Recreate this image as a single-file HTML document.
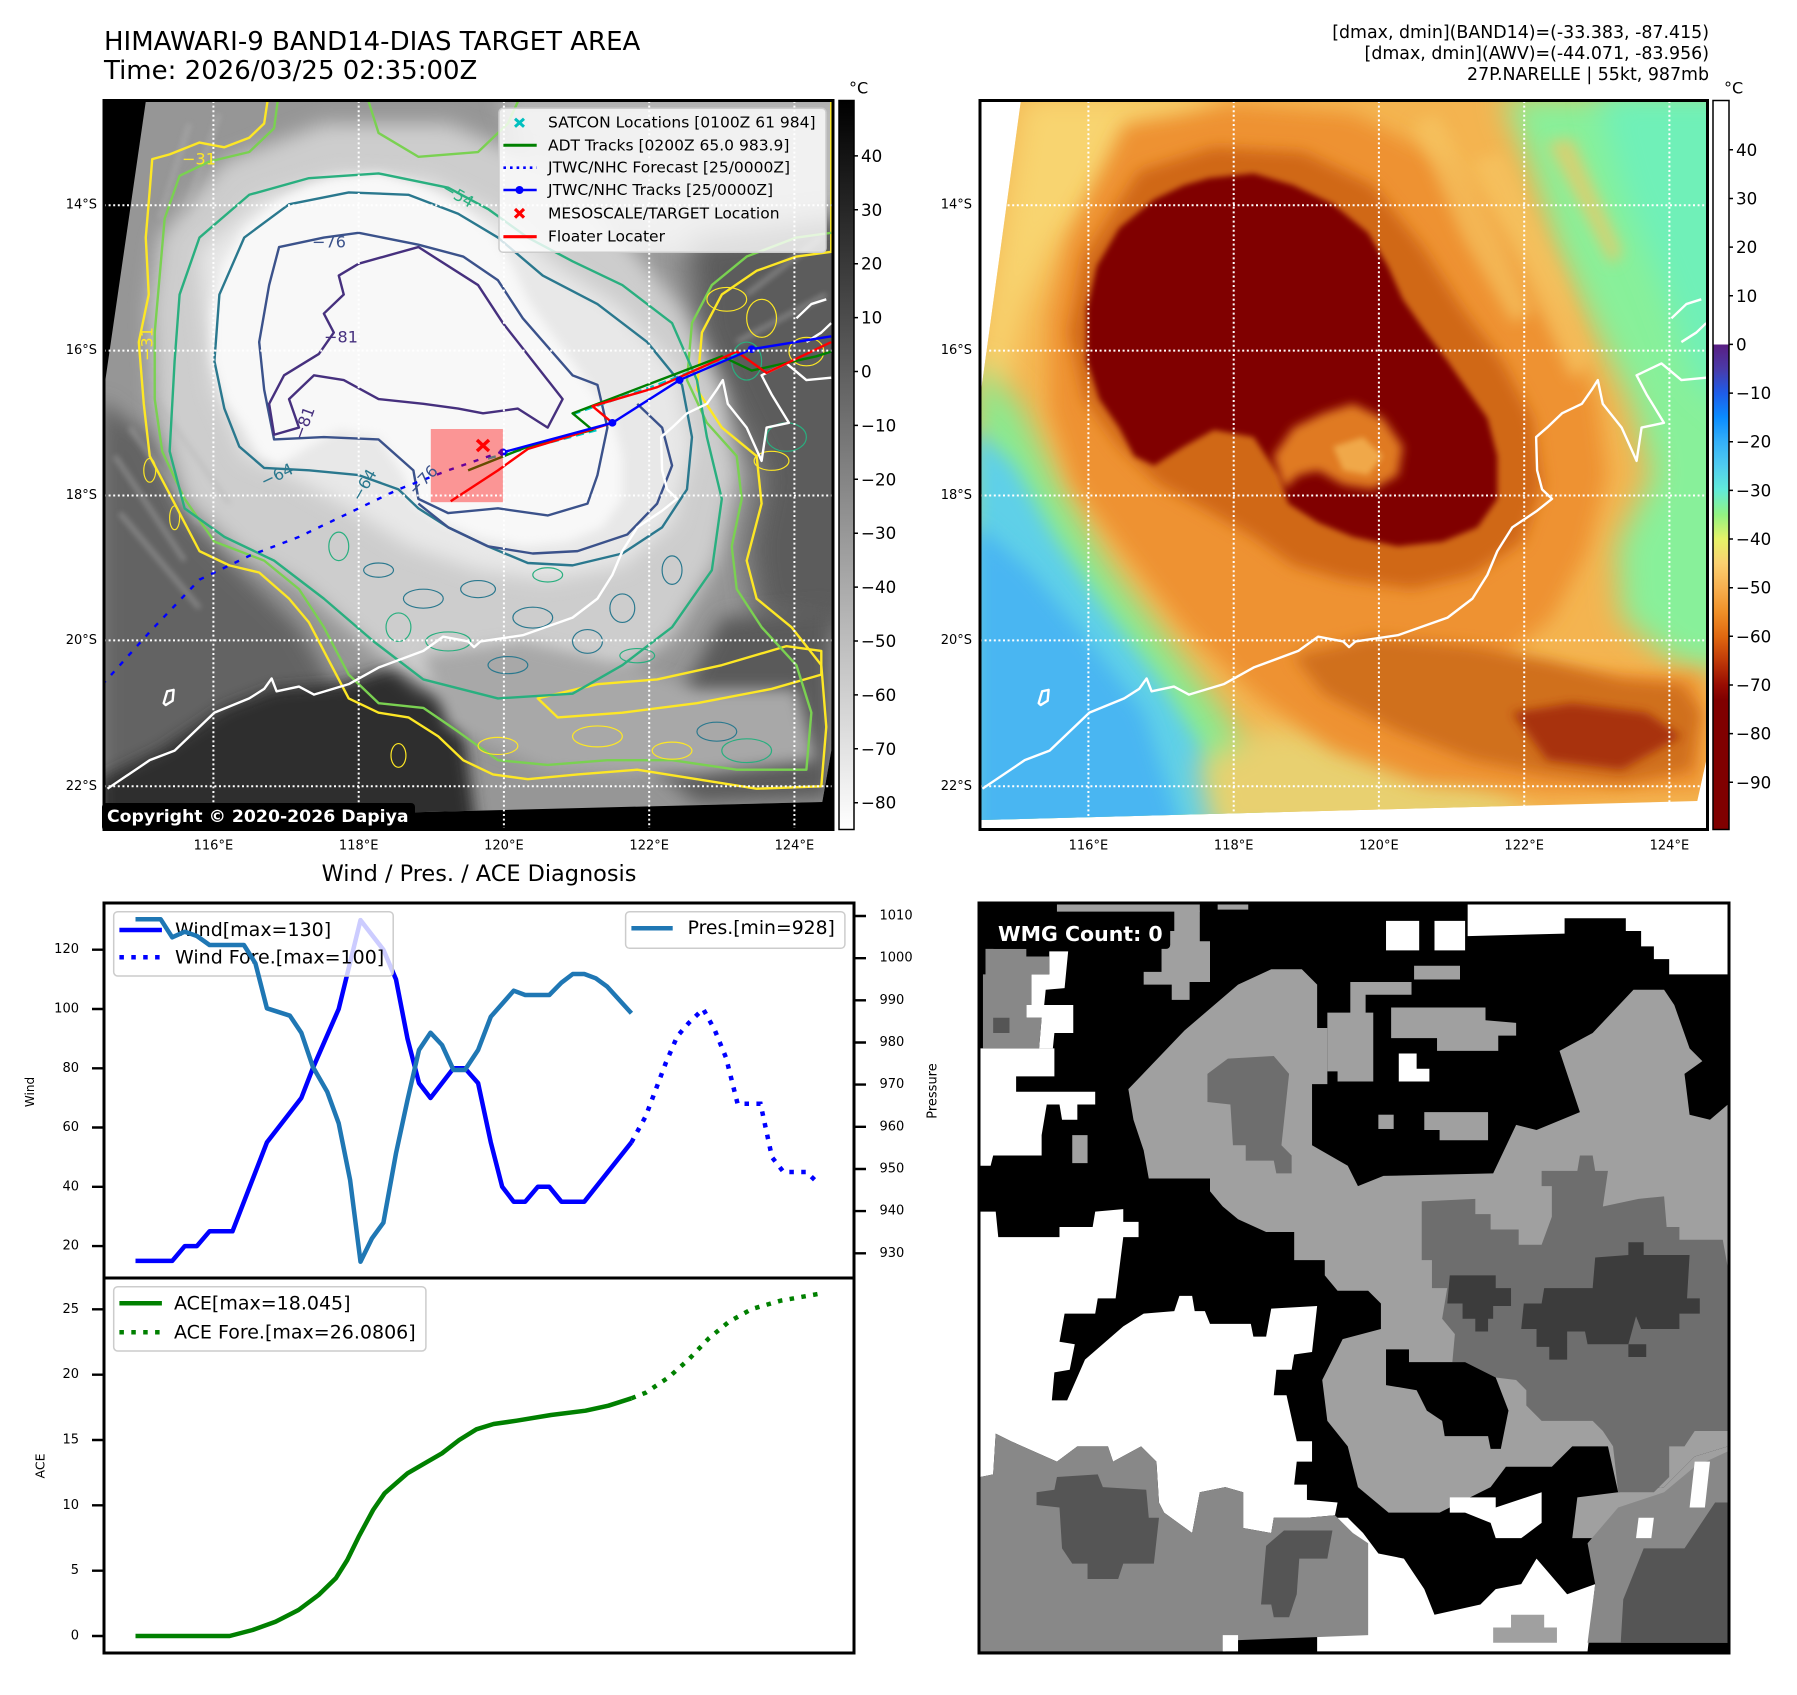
<!DOCTYPE html>
<html><head><meta charset="utf-8"><style>
html,body{margin:0;padding:0;background:#fff;}
body{width:1797px;height:1690px;overflow:hidden;}
svg text{font-family:"DejaVu Sans","Liberation Sans",sans-serif;}
.ct{fill:none;stroke-width:2.4;stroke-linejoin:round;vector-effect:non-scaling-stroke;}
</style></head><body>
<svg width="1797" height="1690" viewBox="0 0 1797 1690" xmlns="http://www.w3.org/2000/svg">
<defs>
<filter id="b6" filterUnits="userSpaceOnUse" x="-300" y="-300" width="2200" height="2200"><feGaussianBlur stdDeviation="6"/></filter>
<filter id="b10" filterUnits="userSpaceOnUse" x="-300" y="-300" width="2200" height="2200"><feGaussianBlur stdDeviation="10"/></filter>
<filter id="b15" filterUnits="userSpaceOnUse" x="-300" y="-300" width="2200" height="2200"><feGaussianBlur stdDeviation="15"/></filter>
<filter id="b20" filterUnits="userSpaceOnUse" x="-300" y="-300" width="2200" height="2200"><feGaussianBlur stdDeviation="20"/></filter>
<filter id="b30" filterUnits="userSpaceOnUse" x="-300" y="-300" width="2200" height="2200"><feGaussianBlur stdDeviation="30"/></filter>
<linearGradient id="cbGray" x1="0" y1="0" x2="0" y2="1"><stop offset="0" stop-color="#000"/><stop offset="1" stop-color="#fff"/></linearGradient>
<linearGradient id="cbAWV" x1="0" y1="0" x2="0" y2="1">
<stop offset="0" stop-color="#fff"/><stop offset="0.3345" stop-color="#fff"/><stop offset="0.3347" stop-color="#5a1e82"/>
<stop offset="0.368" stop-color="#4a3aa8"/><stop offset="0.401" stop-color="#1f5ce8"/><stop offset="0.4347" stop-color="#0a8cff"/>
<stop offset="0.468" stop-color="#34b0f8"/><stop offset="0.5014" stop-color="#50ccf0"/><stop offset="0.5348" stop-color="#62ecd8"/>
<stop offset="0.568" stop-color="#92f282"/><stop offset="0.6015" stop-color="#e6f268"/><stop offset="0.6349" stop-color="#fad070"/>
<stop offset="0.668" stop-color="#f8b050"/><stop offset="0.7016" stop-color="#f09028"/><stop offset="0.735" stop-color="#e06810"/>
<stop offset="0.768" stop-color="#c03a08"/><stop offset="0.8018" stop-color="#980c02"/><stop offset="0.822" stop-color="#800000"/><stop offset="1" stop-color="#800000"/>
</linearGradient>
<clipPath id="clipL"><rect x="8" y="14" width="1466" height="1531"/></clipPath>
<clipPath id="clipR"><rect x="10" y="14" width="1462" height="1531"/></clipPath>
<clipPath id="clipW"><rect x="37" y="45" width="1471" height="1470"/></clipPath>
</defs>

<!-- Titles -->
<text x="104" y="42" font-size="26" dominant-baseline="central">HIMAWARI-9 BAND14-DIAS TARGET AREA</text>
<text x="104" y="71" font-size="26" dominant-baseline="central">Time: 2026/03/25 02:35:00Z</text>
<text x="1709" y="33" font-size="17.4" text-anchor="end" dominant-baseline="central">[dmax, dmin](BAND14)=(-33.383, -87.415)</text>
<text x="1709" y="54" font-size="17.4" text-anchor="end" dominant-baseline="central">[dmax, dmin](AWV)=(-44.071, -83.956)</text>
<text x="1709" y="75" font-size="17.4" text-anchor="end" dominant-baseline="central">27P.NARELLE | 55kt, 987mb</text>

<!-- ============ LEFT MAP ============ -->
<svg x="100" y="95" width="780" height="745" viewBox="0 0 1568 1568" preserveAspectRatio="none">
<g clip-path="url(#clipL)">
<rect x="0" y="0" width="1568" height="1568" fill="#000"/>
<clipPath id="swL"><polygon points="92,14 1474,14 1470,1380 1452,1488 10,1526 8,620"/></clipPath>
<g clip-path="url(#swL)">
<rect x="0" y="0" width="1568" height="1568" fill="#969696"/>
<polygon points="800,0 1568,0 1568,260 1200,330 900,250" fill="#b8b8b8" filter="url(#b20)"/>
<polygon points="1180,300 1568,250 1568,1150 1320,1100 1300,950 1330,800 1260,650 1200,500" fill="#5c5c5c" filter="url(#b30)"/>
<polygon points="0,640 100,720 170,880 280,1000 400,1120 480,1260 560,1420 600,1568 0,1568" fill="#646464" filter="url(#b20)"/>
<polygon points="0,1440 120,1380 250,1290 350,1250 480,1240 600,1200 720,1250 760,1568 0,1568" fill="#2e2e2e" filter="url(#b15)"/>
<polygon points="1250,1100 1470,1080 1470,1480 1200,1490 1100,1400" fill="#5a5a5a" filter="url(#b20)"/>
<polygon points="120,300 250,140 450,60 700,60 900,150 1050,300 1170,450 1250,620 1280,800 1240,980 1150,1140 1000,1250 820,1290 650,1250 520,1140 400,1030 280,960 170,850 110,650 100,450" fill="#cdcdcd" filter="url(#b20)"/>
<polygon points="200,330 320,220 480,170 660,180 800,250 920,360 1050,450 1160,580 1190,740 1150,900 1050,990 900,1020 760,1000 620,950 500,870 380,800 290,760 230,620 210,460" fill="#e8e8e8" filter="url(#b20)"/>
<polygon points="470,175 560,165 640,190 720,230 790,290 830,360 860,430 900,490 950,560 990,620 1030,680 1050,760 1050,850 1010,910 940,940 850,950 760,930 690,900 630,860 610,800 560,720 480,705 420,740 360,780 320,760 290,700 250,640 225,560 225,450 245,360 290,280 360,220 420,190" fill="#f8f8f8" filter="url(#b10)"/>
<polygon points="650,1180 850,1150 1050,1200 1200,1250 1400,1250 1440,1400 1200,1430 900,1420 700,1330" fill="#a8a8a8" filter="url(#b15)"/>
<g stroke="#b4b4b4" stroke-width="10" opacity="0.45" filter="url(#b6)">
<path d="M60,700 L200,900 M30,760 L170,980 M110,640 L260,860 M40,880 L200,1080 M180,60 L120,260 M240,40 L170,250 M1300,420 L1450,300 M1280,520 L1460,420"/>
</g>
</g>
<!-- contours -->
<path class="ct" stroke="#fde725" d="M340,-10 L330,60 L300,90 L250,110 L200,100 L140,125 L105,135 L100,200 L92,300 L98,420 L78,520 L88,650 L100,760 L150,860 L200,960 L260,990 L320,1005 L380,1060 L420,1110 L460,1190 L500,1270 L560,1300 L620,1310 L680,1350 L730,1400 L790,1430 L860,1440 L960,1430 L1080,1420 L1200,1440 L1320,1460 L1450,1455 L1460,1330 L1450,1200 L1390,1120 L1320,1060 L1300,980 L1330,860 L1320,760 L1250,700 L1200,620 L1210,500 L1250,420 L1320,370 L1400,340 L1470,330 L1470,-10 Z"/>
<path class="ct" stroke="#fde725" d="M880,1270 L1000,1240 L1120,1230 L1250,1200 L1380,1160 L1450,1170 L1450,1220 L1350,1250 L1200,1280 L1050,1300 L920,1310 Z"/>
<path class="ct" stroke="#7ad151" d="M360,-10 L350,70 L300,120 L220,140 L160,170 L130,260 L120,380 L110,500 L110,640 L125,750 L170,850 L230,940 L330,980 L400,1040 L450,1120 L500,1220 L560,1280 L650,1290 L720,1340 L800,1400 L900,1410 L1020,1400 L1150,1400 L1280,1420 L1420,1420 L1430,1300 L1400,1200 L1330,1120 L1280,1040 L1270,950 L1290,850 L1280,760 L1220,690 L1180,600 L1190,480 L1230,400 L1300,340 L1400,300 L1470,290"/>
<path class="ct" stroke="#7ad151" d="M540,14 L560,80 L640,130 L760,120 L820,60 L840,14"/>
<path class="ct" stroke="#29af7f" d="M150,560 L160,420 L200,300 L300,210 L420,175 L560,165 L700,195 L780,240 L860,300 L950,350 L1050,400 L1150,480 L1200,600 L1220,720 L1250,850 L1230,1000 L1150,1120 L1050,1200 L950,1260 L800,1270 L650,1230 L550,1150 L450,1060 L350,980 L250,930 L170,870 L140,750 Z"/>
<path class="ct" stroke="#2a788e" d="M230,560 L240,420 L290,300 L380,230 L500,205 L620,210 L720,250 L800,300 L890,380 L1000,440 L1100,520 L1170,610 L1190,720 L1180,830 L1130,910 L1050,965 L950,990 L860,985 L780,950 L700,910 L640,870 L600,830 L520,800 L420,790 L330,785 L280,740 L250,660 Z"/>
<path class="ct" stroke="#3b528b" d="M340,400 L360,320 L450,300 L520,290 L640,315 L730,340 L800,390 L850,470 L900,530 L950,590 L1000,610 L1020,700 L1000,800 L980,860 L900,885 L800,870 L700,880 L640,850 L630,790 L560,725 L450,720 L350,725 L330,620 L320,520 Z"/>
<path class="ct" stroke="#3b528b" d="M640,860 L700,910 L780,950 L870,965 L960,960 L1060,925 L1120,860 L1150,780 L1130,700 L1080,650"/>
<path class="ct" stroke="#46307e" d="M480,380 L520,355 L640,320 L760,400 L810,480 L840,520 L870,560 L900,600 L930,640 L900,700 L840,660 L770,670 L720,660 L650,650 L560,640 L490,600 L430,590 L380,640 L400,700 L350,715 L340,650 L370,590 L440,545 L470,500 L450,460 L490,420 Z"/>
<g class="ct" stroke="#2a788e">
<ellipse cx="560" cy="1000" rx="30" ry="15"/><ellipse cx="650" cy="1060" rx="40" ry="20"/><ellipse cx="760" cy="1040" rx="35" ry="18"/>
<ellipse cx="870" cy="1100" rx="40" ry="22"/><ellipse cx="980" cy="1150" rx="30" ry="25"/><ellipse cx="820" cy="1200" rx="40" ry="18"/>
<ellipse cx="1050" cy="1080" rx="25" ry="30"/><ellipse cx="1150" cy="1000" rx="20" ry="30"/><ellipse cx="1240" cy="1340" rx="40" ry="20"/>
</g>
<g class="ct" stroke="#29af7f">
<ellipse cx="700" cy="1150" rx="45" ry="20"/><ellipse cx="900" cy="1010" rx="30" ry="15"/><ellipse cx="600" cy="1120" rx="25" ry="30"/>
<ellipse cx="1080" cy="1180" rx="35" ry="15"/><ellipse cx="480" cy="950" rx="20" ry="30"/><ellipse cx="1300" cy="1380" rx="50" ry="25"/>
<ellipse cx="1380" cy="720" rx="40" ry="30"/><ellipse cx="1300" cy="560" rx="30" ry="40"/>
</g>
<g class="ct" stroke="#fde725">
<ellipse cx="1260" cy="430" rx="40" ry="25"/><ellipse cx="1330" cy="470" rx="30" ry="40"/><ellipse cx="1420" cy="540" rx="35" ry="30"/>
<ellipse cx="1350" cy="770" rx="35" ry="20"/><ellipse cx="100" cy="790" rx="12" ry="25"/><ellipse cx="150" cy="890" rx="10" ry="25"/>
<ellipse cx="1000" cy="1350" rx="50" ry="22"/><ellipse cx="800" cy="1370" rx="40" ry="18"/><ellipse cx="1150" cy="1380" rx="40" ry="18"/>
<ellipse cx="600" cy="1390" rx="15" ry="25"/>
</g>
<!-- coastline -->
<path class="ct" stroke="#fff" stroke-width="2" d="M15,1460 L100,1400 L150,1380 L200,1330 L230,1300 L300,1270 L330,1250 L345,1228 L355,1255 L400,1245 L430,1262 L500,1240 L560,1205 L650,1170 L690,1140 L740,1150 L752,1162 L765,1150 L850,1137 L950,1100 L1000,1060 L1030,1010 L1050,960 L1080,910 L1130,875 L1160,850 L1140,830 L1130,790 L1128,720 L1150,700 L1180,670 L1220,650 L1240,620 L1252,600 L1262,650 L1300,700 L1330,770 L1340,700 L1385,690 L1350,630 L1330,590 L1380,565 L1420,600 L1470,595"/>
<path class="ct" stroke="#fff" d="M128,1280 L135,1255 L148,1252 L146,1275 L132,1284 Z"/>
<path class="ct" stroke="#fff" d="M1400,470 L1430,440 L1460,430 M1420,520 L1450,500 L1470,480"/>
<!-- tracks -->
<path class="ct" stroke="#00c8c8" stroke-width="5" stroke-dasharray="8 5" d="M950,672 L1120,610 L1280,545 M780,765 L1000,705"/>
<path class="ct" stroke="#0000ff" stroke-width="2.6" stroke-dasharray="5 8" d="M810,750 L700,790 L600,830 L500,880 L400,930 L300,970 L200,1020 L100,1130 L10,1235"/>
<path class="ct" stroke="#008000" stroke-width="2.8" d="M740,790 L860,740 L990,705 L950,670 L1000,650 L1250,550 L1310,580 L1440,550 L1470,540"/>
<path class="ct" stroke="#ff0000" stroke-width="3.2" d="M705,855 L800,790 L860,745 L985,705 L1030,690 L990,655 L1120,615 L1280,540 L1340,585 L1470,520"/>
<path class="ct" stroke="#0000ff" stroke-width="2.6" d="M810,752 L1030,690 L1165,600 L1310,535 L1470,508"/>
<g fill="#0000ff"><ellipse cx="810" cy="752" rx="8" ry="8"/><ellipse cx="1030" cy="690" rx="8" ry="8"/><ellipse cx="1165" cy="600" rx="8" ry="8"/><ellipse cx="1310" cy="535" rx="8" ry="8"/></g>
<rect x="665" y="703" width="145" height="154" fill="#ff0000" fill-opacity="0.4"/>
</g>
</svg>

<!-- ============ RIGHT MAP ============ -->
<svg x="975" y="95" width="780" height="745" viewBox="0 0 1568 1568" preserveAspectRatio="none">
<g clip-path="url(#clipR)">
<rect x="0" y="0" width="1568" height="1568" fill="#fff"/>
<clipPath id="swR"><polygon points="92,14 1474,14 1470,1400 1452,1486 10,1526 10,640"/></clipPath>
<g clip-path="url(#swR)">
<rect x="0" y="0" width="1568" height="1568" fill="#f4b450"/>
<polygon points="92,0 500,0 420,120 260,200 160,320 100,450 60,620 0,620" fill="#f8d470" filter="url(#b30)"/>
<polygon points="1060,0 1568,0 1568,1230 1400,1190 1300,1100 1290,950 1360,800 1320,650 1240,480 1170,320 1120,160" fill="#88f09a" filter="url(#b30)"/>
<polygon points="1250,0 1568,0 1568,700 1450,600 1380,400 1300,200" fill="#70f0b8" filter="url(#b30)"/>
<polygon points="0,560 90,650 170,820 270,990 390,1150 500,1300 600,1450 640,1568 0,1568" fill="#8aea90" filter="url(#b30)"/>
<polygon points="0,700 80,780 160,930 260,1080 370,1230 460,1380 520,1568 0,1568" fill="#5fd0e8" filter="url(#b20)"/>
<polygon points="0,900 110,1000 230,1150 340,1300 420,1568 0,1568" fill="#48b6f2" filter="url(#b20)"/>
<polygon points="480,1568 450,1400 600,1330 800,1350 1000,1400 1100,1500 1100,1568" fill="#e8d070" filter="url(#b30)"/>
<polygon points="300,60 520,20 760,40 950,140 1080,300 1180,470 1250,640 1270,800 1230,960 1160,1100 1050,1200 1200,1220 1460,1220 1470,1460 1150,1470 900,1450 720,1380 560,1260 420,1120 300,960 200,820 150,660 150,470 190,300" fill="#ee9230" filter="url(#b20)"/>
<g fill="#f6c462" opacity="0.7" filter="url(#b15)">
<polygon points="1000,140 1060,120 1180,380 1240,560 1200,600 1120,420"/>
<polygon points="880,60 930,40 1060,300 1120,460 1080,480 980,300"/>
<polygon points="1150,100 1200,90 1300,330 1280,360"/>
</g>
<polygon points="330,160 480,110 660,120 800,190 900,320 980,450 1060,560 1120,680 1140,820 1100,940 1000,1010 880,1040 740,1020 640,990 560,930 460,870 370,820 290,740 220,640 190,500 220,340" fill="#d06818" filter="url(#b15)"/>
<polygon points="640,1180 800,1140 1000,1160 1150,1190 1300,1230 1420,1240 1460,1300 1440,1420 1300,1450 1150,1430 1000,1400 850,1340 700,1260" fill="#d0701a" filter="url(#b15)"/>
<polygon points="1080,1300 1200,1280 1350,1300 1420,1350 1300,1420 1150,1400" fill="#a83010" filter="url(#b10)"/>
<polygon points="470,175 560,165 640,190 720,230 790,290 830,360 860,430 900,490 950,560 990,620 1030,680 1050,760 1050,850 1010,910 940,940 850,950 760,930 690,900 630,860 610,800 560,720 480,705 420,740 360,780 320,760 290,700 250,640 225,560 225,450 245,360 290,280 360,220 420,190" fill="#800000" filter="url(#b6)"/>
<polygon points="600,760 640,700 700,670 760,650 820,680 860,740 850,800 800,830 740,820 690,790 650,800 620,830" fill="#e07a20" filter="url(#b10)"/>
<polygon points="720,740 780,720 820,760 790,800 740,790" fill="#f0a848" filter="url(#b6)"/>
</g>
<path class="ct" stroke="#fff" stroke-width="2" d="M15,1460 L100,1400 L150,1380 L200,1330 L230,1300 L300,1270 L330,1250 L345,1228 L355,1255 L400,1245 L430,1262 L500,1240 L560,1205 L650,1170 L690,1140 L740,1150 L752,1162 L765,1150 L850,1137 L950,1100 L1000,1060 L1030,1010 L1050,960 L1080,910 L1130,875 L1160,850 L1140,830 L1130,790 L1128,720 L1150,700 L1180,670 L1220,650 L1240,620 L1252,600 L1262,650 L1300,700 L1330,770 L1340,700 L1385,690 L1350,630 L1330,590 L1380,565 L1420,600 L1470,595"/>
<path class="ct" stroke="#fff" d="M128,1280 L135,1255 L148,1252 L146,1275 L132,1284 Z"/>
<path class="ct" stroke="#fff" d="M1400,470 L1430,440 L1460,430 M1420,520 L1450,500 L1470,480"/>
</g>
</svg>

<!-- gridlines -->
<g stroke="#fff" stroke-width="2" stroke-dasharray="2 2.6" fill="none">
<path d="M213.4,101 V829 M358.7,101 V829 M503.9,101 V829 M649.2,101 V829 M794.4,101 V829 M104,205.2 H833 M104,350.6 H833 M104,495.5 H833 M104,640.4 H833 M104,786.3 H833"/>
<path d="M1088.4,101 V829 M1233.7,101 V829 M1378.9,101 V829 M1524.2,101 V829 M1669.4,101 V829 M980,205.2 H1707 M980,350.6 H1707 M980,495.5 H1707 M980,640.4 H1707 M980,786.3 H1707"/>
</g>

<!-- contour labels -->
<g font-size="16" dominant-baseline="central" text-anchor="middle">
<text x="199" y="159" fill="#fde725">−31</text>
<text x="147" y="344" fill="#fde725" transform="rotate(-90 147 344)">−31</text>
<text x="458" y="195" fill="#29af7f" transform="rotate(30 458 195)">−54</text>
<text x="329" y="242" fill="#3b528b">−76</text>
<text x="341" y="337" fill="#46307e">−81</text>
<text x="304" y="423" fill="#46307e" transform="rotate(-70 304 423)">−81</text>
<text x="277" y="475" fill="#2a788e" transform="rotate(-25 277 475)">−64</text>
<text x="364" y="485" fill="#2a788e" transform="rotate(-60 364 485)">−64</text>
<text x="423" y="480" fill="#3b528b" transform="rotate(-45 423 480)">−76</text>
</g>
<!-- red target X -->
<path d="M477,440 L489,451 M489,440 L477,451" stroke="#ff0000" stroke-width="3.5"/>

<!-- left map legend -->
<rect x="499" y="108.3" width="327" height="144" rx="4" fill="#fff" fill-opacity="0.8" stroke="#cccccc" stroke-width="1.5"/>
<path d="M515,118.7 L524,126.7 M524,118.7 L515,126.7" stroke="#00bfbf" stroke-width="3"/>
<line x1="503.4" y1="145.3" x2="536.7" y2="145.3" stroke="#008000" stroke-width="3"/>
<line x1="503.4" y1="167.7" x2="536.7" y2="167.7" stroke="#0000ff" stroke-width="2.6" stroke-dasharray="2.6 4"/>
<line x1="503.4" y1="190" x2="536.7" y2="190" stroke="#0000ff" stroke-width="2.6"/>
<circle cx="519.5" cy="190" r="4" fill="#0000ff"/>
<path d="M515,209 L524,217.6 M524,209 L515,217.6" stroke="#ff0000" stroke-width="3.2"/>
<line x1="503.4" y1="236.7" x2="536.7" y2="236.7" stroke="#ff0000" stroke-width="3.2"/>
<g font-size="15.5" dominant-baseline="central">
<text x="548" y="122.7">SATCON Locations [0100Z 61 984]</text>
<text x="548" y="145.3">ADT Tracks [0200Z 65.0 983.9]</text>
<text x="548" y="167.7">JTWC/NHC Forecast [25/0000Z]</text>
<text x="548" y="190">JTWC/NHC Tracks [25/0000Z]</text>
<text x="548" y="213.3">MESOSCALE/TARGET Location</text>
<text x="548" y="236.7">Floater Locater</text>
</g>

<!-- copyright -->
<rect x="102" y="803" width="313" height="28" rx="4" fill="#000"/>
<text x="107" y="817" font-size="17.3" font-weight="bold" fill="#fff" dominant-baseline="central">Copyright © 2020-2026 Dapiya</text>

<!-- map frames -->
<rect x="104" y="100.5" width="729" height="729" fill="none" stroke="#000" stroke-width="3"/>
<rect x="980" y="100.5" width="727.5" height="729" fill="none" stroke="#000" stroke-width="3"/>

<!-- map tick labels -->
<g font-size="13" dominant-baseline="central" text-anchor="end">
<text x="97" y="205.2">14°S</text><text x="97" y="350.6">16°S</text><text x="97" y="495.5">18°S</text><text x="97" y="640.4">20°S</text><text x="97" y="786.3">22°S</text>
<text x="972" y="205.2">14°S</text><text x="972" y="350.6">16°S</text><text x="972" y="495.5">18°S</text><text x="972" y="640.4">20°S</text><text x="972" y="786.3">22°S</text>
</g>
<g font-size="13" dominant-baseline="central" text-anchor="middle">
<text x="213.4" y="846">116°E</text><text x="358.7" y="846">118°E</text><text x="503.9" y="846">120°E</text><text x="649.2" y="846">122°E</text><text x="794.4" y="846">124°E</text>
<text x="1088.4" y="846">116°E</text><text x="1233.7" y="846">118°E</text><text x="1378.9" y="846">120°E</text><text x="1524.2" y="846">122°E</text><text x="1669.4" y="846">124°E</text>
</g>

<!-- colorbars -->
<rect x="839" y="100.5" width="15" height="729" fill="url(#cbGray)" stroke="#000" stroke-width="1.5"/>
<rect x="1713" y="100.5" width="16" height="729" fill="url(#cbAWV)" stroke="#000" stroke-width="1.5"/>
<text x="849" y="88" font-size="16" dominant-baseline="central">°C</text>
<text x="1724" y="88" font-size="16" dominant-baseline="central">°C</text>
<g stroke="#000" stroke-width="1.5">
<path d="M854,155.9 h4 M854,209.8 h4 M854,263.7 h4 M854,317.6 h4 M854,371.5 h4 M854,425.4 h4 M854,479.3 h4 M854,533.2 h4 M854,587.1 h4 M854,641 h4 M854,694.9 h4 M854,748.8 h4 M854,802.7 h4"/>
<path d="M1729,149.8 h4 M1729,198.5 h4 M1729,247.1 h4 M1729,295.8 h4 M1729,344.4 h4 M1729,393.1 h4 M1729,441.7 h4 M1729,490.4 h4 M1729,539 h4 M1729,587.7 h4 M1729,636.3 h4 M1729,685 h4 M1729,733.6 h4 M1729,782.3 h4"/>
</g>
<g font-size="16.7" dominant-baseline="central">
<text x="861" y="155.9">40</text><text x="861" y="209.8">30</text><text x="861" y="263.7">20</text><text x="861" y="317.6">10</text><text x="861" y="371.5">0</text>
<text x="861" y="425.4">−10</text><text x="861" y="479.3">−20</text><text x="861" y="533.2">−30</text><text x="861" y="587.1">−40</text><text x="861" y="641">−50</text>
<text x="861" y="694.9">−60</text><text x="861" y="748.8">−70</text><text x="861" y="802.7">−80</text>
<text x="1736" y="149.8">40</text><text x="1736" y="198.5">30</text><text x="1736" y="247.1">20</text><text x="1736" y="295.8">10</text><text x="1736" y="344.4">0</text>
<text x="1736" y="393.1">−10</text><text x="1736" y="441.7">−20</text><text x="1736" y="490.4">−30</text><text x="1736" y="539">−40</text><text x="1736" y="587.7">−50</text>
<text x="1736" y="636.3">−60</text><text x="1736" y="685">−70</text><text x="1736" y="733.6">−80</text><text x="1736" y="782.3">−90</text>
</g>

<!-- ============ WIND / PRES / ACE ============ -->
<text x="479" y="874" font-size="22.4" text-anchor="middle" dominant-baseline="central">Wind / Pres. / ACE Diagnosis</text>
<polyline fill="none" stroke="#0000ff" stroke-width="4.5" stroke-linejoin="round" points="135.5,1260.9 172.2,1260.9 184.8,1246.1 196.9,1246.1 209.5,1231.3 232.5,1231.3 266.9,1142.4 301.3,1098 312.8,1068.3 338.7,1009 360.5,920.1 383.4,949.7 396,979.4 407.5,1038.7 419,1083.1 430.5,1098 453.5,1068.3 464.9,1068.3 478.1,1083.1 490.8,1142.4 502.2,1186.8 513.7,1201.7 525.2,1201.7 537.8,1186.8 549.3,1186.8 561.4,1201.7 584.3,1201.7 631.4,1142.4"/>
<polyline fill="none" stroke="#0000ff" stroke-width="4.5" stroke-dasharray="4.5 7.4" points="631.4,1142.4 645.7,1116.3 665.8,1062.9 677.3,1036.2 688.8,1022.9 703.2,1009 714.6,1029.7 726.1,1057.9 737.6,1103.8 760.5,1103.8 772,1157.2 783.5,1172 806.5,1172 817.9,1183"/>
<!-- wind legend -->
<rect x="113.7" y="911.7" width="279.5" height="64.3" rx="4" fill="#fff" fill-opacity="0.8" stroke="#cccccc" stroke-width="1.5"/>
<line x1="119.4" y1="930" x2="161.9" y2="930" stroke="#0000ff" stroke-width="4.5"/>
<line x1="119.4" y1="957.3" x2="161.9" y2="957.3" stroke="#0000ff" stroke-width="4.5" stroke-dasharray="4.5 7.4"/>
<text x="175" y="930" font-size="19" dominant-baseline="central">Wind[max=130]</text>
<text x="175" y="957.3" font-size="19" dominant-baseline="central">Wind Fore.[max=100]</text>
<!-- pressure -->
<polyline fill="none" stroke="#1f77b4" stroke-width="4.5" stroke-linejoin="round" points="135.5,919.3 160.7,919.3 172.2,937.3 184.8,931.7 196.9,936 209.5,945 243.9,945 255.4,963.3 266.9,1008.3 289.9,1015.7 301.3,1032.7 312.8,1066.7 327.2,1091.7 338.7,1123.3 350.1,1180 360.5,1261.7 372,1238.3 383.4,1222.7 396,1153.3 407.5,1100 419,1050 430.5,1032.7 442,1045 453.5,1070 464.9,1070 478.1,1050 490.8,1016.7 513.7,990.7 525.2,995 549.3,995 561.4,982.7 572.8,974 584.3,974 595.8,978.3 607.3,986.7 631.4,1013.3"/>
<rect x="625.6" y="911.7" width="219.3" height="36.6" rx="4" fill="#fff" fill-opacity="0.8" stroke="#cccccc" stroke-width="1.5"/>
<line x1="631.4" y1="928.3" x2="672.7" y2="928.3" stroke="#1f77b4" stroke-width="4.5"/>
<text x="687.6" y="928.3" font-size="18.8" dominant-baseline="central">Pres.[min=928]</text>
<!-- ACE -->
<polyline fill="none" stroke="#008000" stroke-width="4.5" stroke-linejoin="round" points="135.5,1636 229.6,1636 252.6,1630 275.5,1621.7 298.5,1610 318.6,1595 335.8,1578.3 347.3,1560 358.7,1536.7 373.1,1510 384.6,1493.3 396,1483.3 407.5,1473.3 424.7,1463.3 442,1453.3 459.2,1440 476.4,1429.3 493.6,1424 516.6,1420.7 551,1415 585.5,1410.7 608.4,1405.7 631.4,1398.3"/>
<polyline fill="none" stroke="#008000" stroke-width="4.5" stroke-dasharray="4.5 7.4" points="631.4,1398.3 645.7,1392.7 668.7,1377.3 688.8,1359.3 708.9,1338.3 729,1321.7 751.9,1309 780.6,1300.7 817.9,1294"/>
<rect x="113.7" y="1286.7" width="312.2" height="64.3" rx="4" fill="#fff" fill-opacity="0.8" stroke="#cccccc" stroke-width="1.5"/>
<line x1="119.4" y1="1303.3" x2="161.9" y2="1303.3" stroke="#008000" stroke-width="4.5"/>
<line x1="119.4" y1="1332.3" x2="161.9" y2="1332.3" stroke="#008000" stroke-width="4.5" stroke-dasharray="4.5 7.4"/>
<text x="174" y="1303.3" font-size="19" dominant-baseline="central">ACE[max=18.045]</text>
<text x="174" y="1332.3" font-size="19" dominant-baseline="central">ACE Fore.[max=26.0806]</text>
<!-- frames & ticks -->
<rect x="104" y="903" width="750" height="750" fill="none" stroke="#000" stroke-width="3"/>
<line x1="104" y1="1278" x2="854" y2="1278" stroke="#000" stroke-width="3"/>
<g stroke="#000" stroke-width="2.4">
<path d="M92,949.7 H104 M92,1009 H104 M92,1068.3 H104 M92,1127.5 H104 M92,1186.8 H104 M92,1246.1 H104"/>
<path d="M854,916 H866 M854,958.2 H866 M854,1000.3 H866 M854,1042.5 H866 M854,1084.6 H866 M854,1126.8 H866 M854,1169 H866 M854,1211.1 H866 M854,1253.3 H866"/>
<path d="M92,1309.3 H104 M92,1374.7 H104 M92,1440 H104 M92,1505.3 H104 M92,1570.7 H104 M92,1636 H104"/>
</g>
<g font-size="13" dominant-baseline="central" text-anchor="end">
<text x="79" y="949.7">120</text><text x="79" y="1009">100</text><text x="79" y="1068.3">80</text><text x="79" y="1127.5">60</text><text x="79" y="1186.8">40</text><text x="79" y="1246.1">20</text>
<text x="79" y="1309.3">25</text><text x="79" y="1374.7">20</text><text x="79" y="1440">15</text><text x="79" y="1505.3">10</text><text x="79" y="1570.7">5</text><text x="79" y="1636">0</text>
</g>
<g font-size="13" dominant-baseline="central">
<text x="879.5" y="916">1010</text><text x="879.5" y="958.2">1000</text><text x="879.5" y="1000.3">990</text><text x="879.5" y="1042.5">980</text><text x="879.5" y="1084.6">970</text><text x="879.5" y="1126.8">960</text><text x="879.5" y="1169">950</text><text x="879.5" y="1211.1">940</text><text x="879.5" y="1253.3">930</text>
</g>
<text x="30" y="1092" font-size="12" text-anchor="middle" dominant-baseline="central" transform="rotate(-90 30 1092)">Wind</text>
<text x="40" y="1466" font-size="12.5" text-anchor="middle" dominant-baseline="central" transform="rotate(-90 40 1466)">ACE</text>
<text x="933" y="1091" font-size="13" text-anchor="middle" dominant-baseline="central" transform="rotate(-90 933 1091)">Pressure</text>

<!-- ============ WMG ============ -->
<svg x="960" y="880" width="800" height="800" viewBox="0 0 1568 1568" preserveAspectRatio="none">
<g clip-path="url(#clipW)">
<rect x="0" y="0" width="1568" height="1568" fill="#000"/>
<g fill="#a0a0a0">
<polygon points="330,410 440,295 545,205 610,175 670,175 700,205 700,290 720,290 720,400 690,400 690,520 760,560 780,600 830,580 1045,575 1090,480 1130,490 1215,455 1175,335 1240,300 1320,215 1380,215 1400,245 1430,330 1455,355 1420,380 1430,460 1470,470 1505,440 1505,1110 1440,1130 1380,1190 1290,1200 1270,1110 1200,1110 1160,1150 1070,1150 1040,1190 940,1240 840,1240 780,1190 760,1110 720,1060 710,980 750,900 825,880 825,830 800,805 740,805 715,775 715,745 655,745 655,690 600,690 545,665 515,640 490,610 490,585 370,585 360,530 340,470"/>
<polygon points="190,48 470,48 470,62 190,62"/>
<polygon points="505,48 565,48 565,58 505,58"/>
<polygon points="420,60 470,60 470,120 490,120 490,200 450,200 450,235 415,235 415,205 360,205 360,180 395,180 395,130 410,130 410,100 420,100"/>
<polygon points="765,200 885,200 885,225 795,225 795,260 810,260 810,395 740,395 740,375 720,375 720,260 765,260"/>
<polygon points="845,250 1030,250 1030,275 1090,280 1090,305 1055,305 1055,335 935,335 935,310 845,310"/>
<polygon points="910,455 1035,455 1035,510 940,510 940,490 910,490"/>
<polygon points="890,168 980,168 980,195 890,195"/>
<polygon points="820,460 850,460 850,488 820,488"/>
<polygon points="220,500 250,500 250,555 220,555"/>
<polygon points="1200,1290 1210,1210 1290,1200 1380,1190 1440,1130 1505,1110 1505,1150 1440,1190 1360,1240 1290,1290"/>
<polygon points="1080,1440 1145,1440 1145,1465 1170,1465 1170,1495 1045,1495 1045,1465 1080,1465"/>
</g>
<g fill="#fff">
<polygon points="835,80 900,80 900,138 835,138"/>
<polygon points="930,80 990,80 990,138 930,138"/>
<polygon points="860,340 895,340 895,370 920,370 920,395 860,395"/>
<polygon points="995,48 1505,48 1505,185 1390,185 1390,155 1360,155 1360,130 1335,130 1335,100 1305,100 1305,75 1185,75 1185,105 995,110"/>
<polygon points="175,140 212,140 205,212 168,215 165,245 222,245 222,300 185,300 182,330 155,330 160,270 130,270 130,245 140,245 140,185 175,185"/>
<polygon points="40,330 185,330 185,385 110,385 110,415 265,415 265,440 230,440 230,470 200,470 195,440 170,440 160,500 160,540 65,540 60,560 40,560"/>
</g>
<polygon fill="#888888" points="50,135 130,135 130,150 175,150 175,185 140,185 140,245 130,245 130,270 160,270 155,330 45,330 45,185 50,185"/>
<polygon fill="#555555" points="65,270 97,270 97,300 65,300"/>
<g fill="#6e6e6e">
<polygon points="485,380 525,350 615,345 645,380 630,520 650,540 650,575 620,575 615,550 560,550 560,520 535,520 530,440 485,435"/>
<polygon points="905,630 1010,625 1010,655 1040,655 1040,685 1095,685 1095,715 1140,715 1160,660 1160,600 1140,600 1140,570 1210,570 1215,540 1240,540 1245,570 1270,570 1260,640 1330,625 1380,620 1385,680 1410,680 1410,705 1495,705 1505,760 1505,1080 1440,1080 1420,1110 1390,1110 1390,1170 1360,1200 1290,1200 1280,1110 1260,1080 1240,1060 1140,1060 1110,1030 1110,1000 1090,980 1050,975 990,945 965,945 970,890 945,860 955,800 925,800 925,745 905,745"/>
</g>
<g fill="#3c3c3c">
<polygon points="960,775 1050,775 1050,800 1080,800 1080,835 1045,835 1045,860 1035,860 1035,885 1010,885 1010,860 985,860 985,830 955,830"/>
<polygon points="1245,740 1310,735 1310,710 1340,710 1340,735 1430,735 1425,820 1450,820 1450,850 1410,850 1410,880 1335,880 1325,855 1310,910 1230,910 1225,885 1190,885 1190,940 1155,940 1155,915 1130,915 1130,880 1100,880 1105,830 1140,830 1145,800 1240,800"/>
<polygon points="1310,910 1345,910 1345,935 1310,935"/>
</g>
<polygon fill="#000" points="835,920 880,920 880,945 990,945 1050,975 1075,1040 1060,1115 1040,1115 1035,1090 950,1090 945,1060 915,1040 895,1000 835,990"/>
<polygon fill="#fff" points="40,650 70,650 75,700 195,700 195,680 260,680 265,650 320,645 320,670 350,670 350,700 320,700 305,820 270,820 265,850 205,850 195,905 225,910 215,960 185,965 180,1020 210,1020 245,940 320,875 360,850 420,845 430,815 455,815 460,845 480,845 490,870 570,870 575,895 600,895 610,840 700,835 690,925 655,930 650,960 620,960 615,1010 640,1010 660,1100 690,1100 690,1140 660,1140 655,1185 680,1185 680,1215 740,1220 735,1245 680,1250 615,1250 610,1280 555,1270 555,1200 520,1190 470,1200 455,1280 400,1240 390,1220 385,1140 355,1110 300,1140 290,1110 230,1110 190,1140 100,1100 70,1085 65,1165 40,1170"/>
<polygon fill="#fff" points="700,1250 760,1250 790,1280 820,1320 870,1330 910,1390 930,1440 1020,1420 1050,1390 1100,1380 1130,1330 1190,1400 1245,1380 1230,1512 700,1512"/>
<polygon fill="#fff" points="960,1210 1050,1210 1050,1230 1140,1200 1140,1260 1100,1290 1050,1290 1040,1260 990,1240 960,1240"/>
<polygon fill="#888888" points="40,1170 65,1165 70,1085 100,1100 190,1140 230,1110 290,1110 300,1140 355,1110 385,1140 390,1220 400,1240 455,1280 470,1200 520,1190 555,1200 555,1270 610,1280 615,1250 680,1250 735,1245 770,1280 800,1300 800,1480 540,1490 520,1512 40,1512"/>
<g fill="#555555">
<polygon points="150,1200 185,1195 190,1170 270,1165 280,1190 365,1195 370,1250 390,1250 380,1340 320,1340 310,1370 250,1370 250,1340 220,1340 200,1310 195,1230 150,1225"/>
<polygon points="600,1305 635,1275 730,1275 720,1330 665,1330 660,1400 645,1445 615,1445 610,1420 590,1420"/>
</g>
<polygon fill="#888888" points="1230,1300 1290,1230 1380,1200 1440,1150 1505,1120 1505,1495 1230,1495 1245,1380"/>
<polygon fill="#555555" points="1300,1410 1340,1310 1420,1310 1480,1220 1505,1220 1505,1495 1295,1495"/>
<g fill="#fff">
<polygon points="1440,1140 1470,1140 1460,1230 1430,1230"/>
<polygon points="1330,1250 1360,1250 1355,1290 1325,1290"/>
<polygon points="515,1480 545,1480 545,1512 515,1512"/>
</g>
<polygon fill="#a0a0a0" points="1080,1440 1145,1440 1145,1465 1170,1465 1170,1495 1045,1495 1045,1465 1080,1465"/>
</g>
</svg>
<rect x="979" y="903" width="750" height="750" fill="none" stroke="#000" stroke-width="3"/>
<rect x="990.6" y="918.3" width="179.6" height="30.6" rx="4" fill="#000"/>
<text x="998" y="934" font-size="20.5" font-weight="bold" fill="#fff" dominant-baseline="central">WMG Count: 0</text>
</svg>
</body></html>
